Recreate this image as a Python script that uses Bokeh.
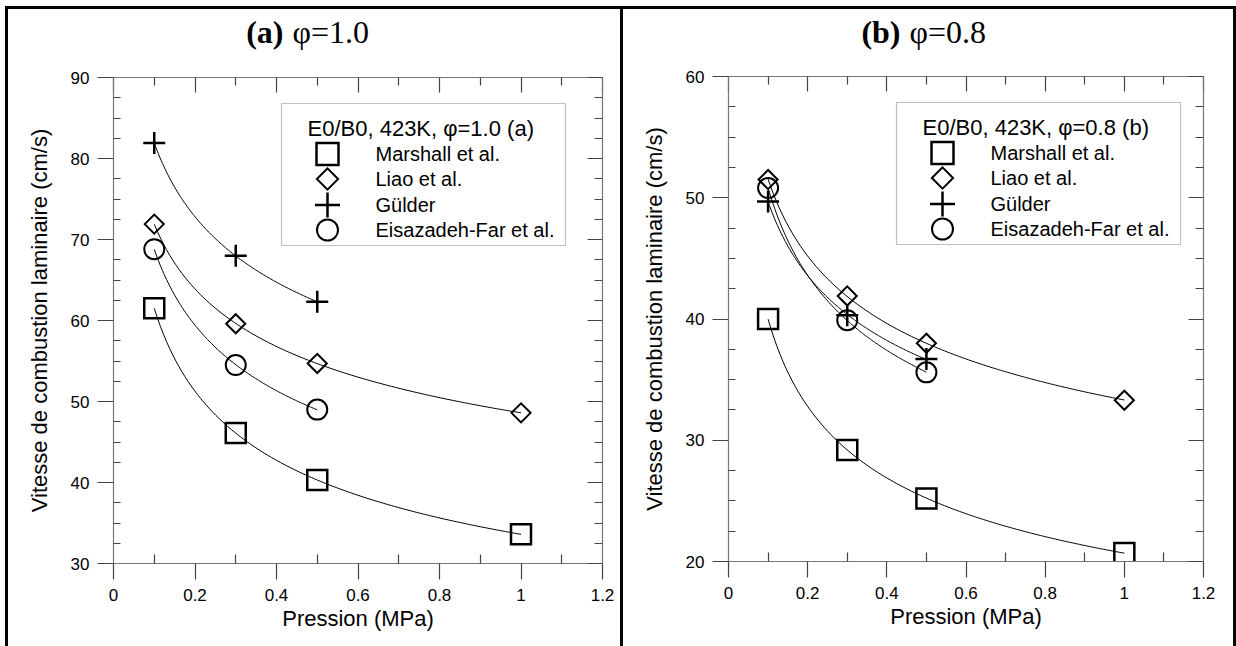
import math
import numpy as np
from bokeh.plotting import figure
from bokeh.layouts import row, column
from bokeh.models import (FixedTicker, LinearAxis, Range1d, BoxAnnotation, Label,
                          ColumnDataSource, Spacer)
from bokeh.embed import file_html
from bokeh.resources import INLINE

# ---------------- data ----------------
PRESSURE = [0.1, 0.3, 0.5, 1.0]          # MPa
PRESSURE_SHORT = [0.1, 0.3, 0.5]

# (a) phi = 1.0
A_MARSHALL = [61.5, 46.1, 40.3, 33.6]
A_LIAO = [71.9, 59.6, 54.7, 48.6]
A_GULDER = [81.9, 68.0, 62.3]
A_EISAZADEH = [68.8, 54.5, 49.0]

# (b) phi = 0.8
B_MARSHALL = [40.0, 29.2, 25.2, 20.7]
B_LIAO = [51.5, 41.9, 38.0, 33.3]
B_GULDER = [49.7, 40.3, 36.7]
B_EISAZADEH = [50.8, 39.9, 35.6]

SERIES_NAMES = ["Marshall et al.", "Liao et al.", "Gülder", "Eisazadeh-Far et al."]

X_TICKS = [0, 0.2, 0.4, 0.6, 0.8, 1.0, 1.2]
X_TICK_LABELS = ["0", "0.2", "0.4", "0.6", "0.8", "1", "1.2"]
X_MINOR = [0.1, 0.3, 0.5, 0.7, 0.9, 1.1]
A_Y_TICKS = [30, 40, 50, 60, 70, 80, 90]
B_Y_TICKS = [20, 30, 40, 50, 60]

X_LABEL = "Pression (MPa)"
Y_LABEL = "Vitesse de combustion laminaire (cm/s)"

SANS = "Liberation Sans"
SERIF = "Liberation Serif"

# marker styles (plot, legend)
STYLES = [
    dict(marker="square", size=20, lw=2.5, angle=0.0, lsize=22),
    dict(marker="square", size=13.5, lw=2.0, angle=math.pi / 4, lsize=15),
    dict(marker="cross", size=22, lw=2.5, angle=0.0, lsize=25),
    dict(marker="circle", size=20, lw=2.0, angle=0.0, lsize=21),
]


def minors(major, step):
    lo, hi = major[0], major[-1]
    vals = []
    v = lo
    while v <= hi + 1e-9:
        if all(abs(v - m) > 1e-9 for m in major):
            vals.append(round(v, 4))
        v += step
    return vals


def power_fit_curve(x, y):
    b, ln_a = np.polyfit(np.log(x), np.log(y), 1)
    xs = np.linspace(x[0], x[-1], 120)
    return xs, np.exp(ln_a) * xs ** b


def style_axis(ax, maj_in, maj_out, min_in, min_out, labels=True):
    ax.axis_line_color = "#777777"
    ax.axis_line_width = 1.2
    ax.major_tick_line_color = "#444444"
    ax.minor_tick_line_color = "#444444"
    ax.major_tick_line_width = 1.2
    ax.minor_tick_line_width = 1.2
    ax.major_tick_in = maj_in
    ax.major_tick_out = maj_out
    ax.minor_tick_in = min_in
    ax.minor_tick_out = min_out
    ax.major_label_text_font = SANS
    ax.major_label_text_font_size = "17px"
    ax.major_label_text_color = "black"
    ax.axis_label_text_font = SANS
    ax.axis_label_text_font_size = "22px"
    ax.axis_label_text_font_style = "normal"
    ax.axis_label_text_color = "black"
    if not labels:
        ax.major_label_text_color = None
        ax.major_label_text_font_size = "0px"
        ax.major_label_standoff = 0
        ax.axis_label = None


def make_title(width, height, frame_w, bold, rest, split_x, baseline_y):
    # in a column the strip's frame is aligned with the panel frame below,
    # so x is measured in pixels from the panel's frame left edge
    t = figure(width=width, height=height, x_range=Range1d(0, frame_w),
               y_range=Range1d(height, 0), output_backend="svg",
               toolbar_location=None, title=None, min_border=0,
               x_axis_location=None, y_axis_location=None,
               border_fill_color="white", background_fill_color="white")
    t.outline_line_color = None
    t.xgrid.visible = False
    t.ygrid.visible = False
    t.add_layout(Label(x=split_x, y=baseline_y, text=bold, text_font=SERIF,
                       text_font_size="32px", text_font_style="bold",
                       text_align="right", text_baseline="alphabetic",
                       text_color="black"))
    t.add_layout(Label(x=split_x + 9, y=baseline_y, text=rest, text_font=SERIF,
                       text_font_size="32px", text_align="left",
                       text_baseline="alphabetic", text_color="black"))
    return t


def make_panel(width, height, left, right, top, bottom, y_range, y_ticks,
               series, legend_title):
    p = figure(width=width, height=height, x_range=(0, 1.2), y_range=y_range,
               output_backend="svg", toolbar_location=None, title=None,
               min_border_left=left, min_border_right=right,
               min_border_top=top, min_border_bottom=bottom,
               background_fill_color="white", border_fill_color="white")
    p.outline_line_color = None
    p.xgrid.visible = False
    p.ygrid.visible = False

    fw = width - left - right
    fh = height - top - bottom
    p.extra_x_ranges = {"px": Range1d(0, fw)}
    p.extra_y_ranges = {"py": Range1d(fh, 0)}

    xt = FixedTicker(ticks=X_TICKS, minor_ticks=X_MINOR)
    yt = FixedTicker(ticks=y_ticks, minor_ticks=minors(y_ticks, 2.5))

    xa = p.xaxis[0]
    xa.ticker = xt
    xa.major_label_overrides = dict(zip(X_TICKS, X_TICK_LABELS))
    xa.axis_label = X_LABEL
    style_axis(xa, 0, 16, 9, 0)
    xa.major_label_standoff = 9
    xa.axis_label_standoff = 2

    ya = p.yaxis[0]
    ya.ticker = yt
    ya.axis_label = Y_LABEL
    style_axis(ya, 0, 16, 7, 0)
    ya.major_label_standoff = 8
    ya.axis_label_standoff = 16

    top_ax = LinearAxis(ticker=xt)
    style_axis(top_ax, 15, 0, 8, 0, labels=False)
    p.add_layout(top_ax, "above")
    right_ax = LinearAxis(ticker=yt)
    style_axis(right_ax, 15, 0, 8, 0, labels=False)
    p.add_layout(right_ax, "right")

    # fitted curves, then markers
    for (xv, yv), st in zip(series, STYLES):
        cx, cy = power_fit_curve(np.array(xv), np.array(yv))
        p.line(cx, cy, line_color="black", line_width=1)
    for (xv, yv), st in zip(series, STYLES):
        p.scatter(x=xv, y=yv, marker=st["marker"], size=st["size"],
                  angle=st["angle"], fill_color=None, line_color="black",
                  line_width=st["lw"], line_join="miter")

    # legend (pixel coordinates inside the frame)
    p.add_layout(BoxAnnotation(left=168, right=452, top=26, bottom=168,
                               x_range_name="px", y_range_name="py",
                               fill_alpha=0, line_color="#333333",
                               line_width=1.2, level="underlay"))
    p.add_layout(Label(x=194, y=51, text=legend_title, x_range_name="px",
                       y_range_name="py", text_font=SANS,
                       text_font_size="22px", text_baseline="middle",
                       text_align="left", text_color="black"))
    rows_y = [76.5, 101.5, 127.5, 152.5]
    for name, st, ry in zip(SERIES_NAMES, STYLES, rows_y):
        src = ColumnDataSource(dict(x=[214], y=[ry]))
        p.scatter(x="x", y="y", source=src, marker=st["marker"],
                  size=st["lsize"], angle=st["angle"], fill_color=None,
                  line_color="black", line_width=st["lw"], line_join="miter",
                  x_range_name="px", y_range_name="py")
        p.add_layout(Label(x=262, y=ry, text=name, x_range_name="px",
                           y_range_name="py", text_font=SANS,
                           text_font_size="20px", text_baseline="middle",
                           text_align="left", text_color="black"))
    return p


def bar(w, h):
    return Spacer(width=w, height=h, styles={"background-color": "black"})


series_a = [(PRESSURE, A_MARSHALL), (PRESSURE, A_LIAO),
            (PRESSURE_SHORT, A_GULDER), (PRESSURE_SHORT, A_EISAZADEH)]
series_b = [(PRESSURE, B_MARSHALL), (PRESSURE, B_LIAO),
            (PRESSURE_SHORT, B_GULDER), (PRESSURE_SHORT, B_EISAZADEH)]

# page geometry: 5px white, 3px black frame, panels separated by 3px bars
COL1_W, COL2_W = 612, 610
TITLE_H, PANEL_H = 50, 587
CONTENT_H = TITLE_H + PANEL_H

t1 = make_title(COL1_W, TITLE_H, 489, "(a)", "φ=1.0", 170, 22)
t2 = make_title(COL2_W, TITLE_H, 475, "(b)", "φ=0.8", 172, 22)
p1 = make_panel(COL1_W, PANEL_H, 105, 18, 18, 83, (30, 90), A_Y_TICKS,
                series_a, "E0/B0, 423K, φ=1.0 (a)")
p2 = make_panel(COL2_W, PANEL_H, 105, 30, 17, 85, (20, 60), B_Y_TICKS,
                series_b, "E0/B0, 423K, φ=0.8 (b)")

body = row(Spacer(width=5, height=CONTENT_H), bar(3, CONTENT_H),
           column(t1, p1), bar(3, CONTENT_H),
           column(t2, p2), bar(3, CONTENT_H))
layout = column(Spacer(width=1236, height=6),
                row(Spacer(width=5, height=3), bar(1231, 3)),
                body)
open("out.html", "w").write(file_html(layout, INLINE))
